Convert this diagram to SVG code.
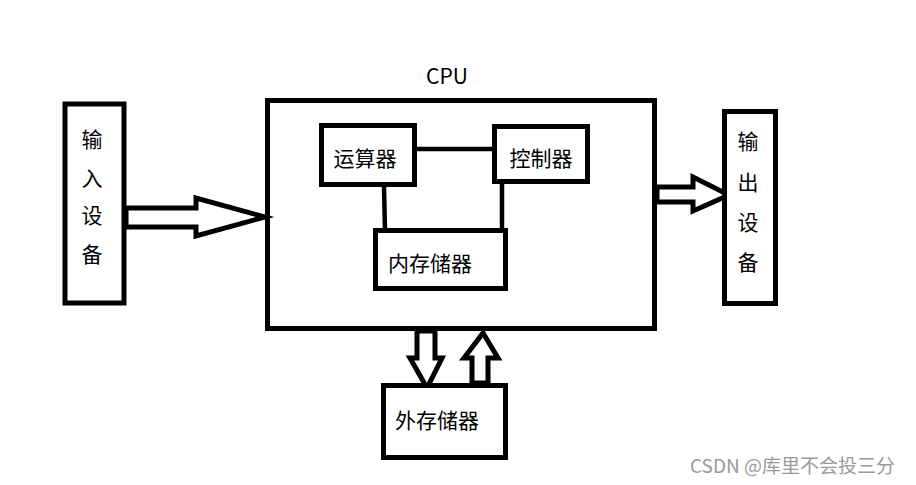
<svg xmlns="http://www.w3.org/2000/svg" width="916" height="485" viewBox="0 0 916 485">
<style>
.box{fill:#fff;stroke:#000;stroke-width:5}
.ln{fill:none;stroke:#000;stroke-width:4.5}
.arr{fill:#fff;stroke:#000;stroke-width:5;stroke-linejoin:miter}
.t{font-family:"Noto Sans CJK SC","Microsoft YaHei",sans-serif;font-size:21px;fill:#000;text-anchor:middle;dominant-baseline:central}
.wm{font-family:"Noto Sans CJK SC",sans-serif;font-size:19px;fill:#9a9a9a}
</style>
<rect width="916" height="485" fill="#fff"/>
<g id="cpu">
<rect class="box" x="267.5" y="100.5" width="387" height="228"/>
<text class="t" x="447" y="75">CPU</text>
</g>
<g id="connectors">
<polygon class="arr" points="126,208 196,208 196,198 265,217 196,236 196,227 126,227"/>
<polygon class="arr" points="657,187 693,187 693,177 729,195 693,211 693,202 657,202"/>
<polygon class="arr" points="417,331 417,358 410,358 427,388 442,358 435,358 435,331"/>
<polygon class="arr" points="472,383 472,358 464,358 483,333 498,358 488,358 488,383"/>
<line class="ln" x1="417" y1="149" x2="503" y2="149"/>
<line class="ln" x1="384" y1="187" x2="385" y2="231"/>
<line class="ln" x1="502" y1="184" x2="502" y2="229"/>
</g>
<g id="input">
<rect class="box" x="65" y="104" width="59" height="199"/>
<text class="t" x="92" y="138">输</text>
<text class="t" x="92" y="177">入</text>
<text class="t" x="92" y="214">设</text>
<text class="t" x="92" y="253">备</text>
</g>
<g id="alu">
<rect class="box" x="321.5" y="125.5" width="93" height="59"/>
<text class="t" x="365" y="157">运算器</text>
</g>
<g id="ctrl">
<rect class="box" x="494.5" y="126.5" width="93" height="55"/>
<text class="t" x="541" y="157">控制器</text>
</g>
<g id="mem">
<rect class="box" x="375.5" y="230.5" width="130" height="58"/>
<text class="t" x="430" y="262">内存储器</text>
</g>
<g id="output">
<rect class="box" x="724.5" y="111.5" width="51" height="192"/>
<text class="t" x="748" y="140">输</text>
<text class="t" x="748" y="181">出</text>
<text class="t" x="748" y="221">设</text>
<text class="t" x="748" y="261">备</text>
</g>
<g id="ext">
<rect class="box" x="383.5" y="385.5" width="122" height="72"/>
<text class="t" x="437" y="419">外存储器</text>
</g>
<text class="wm" x="690" y="473">CSDN @库里不会投三分</text>
</svg>
